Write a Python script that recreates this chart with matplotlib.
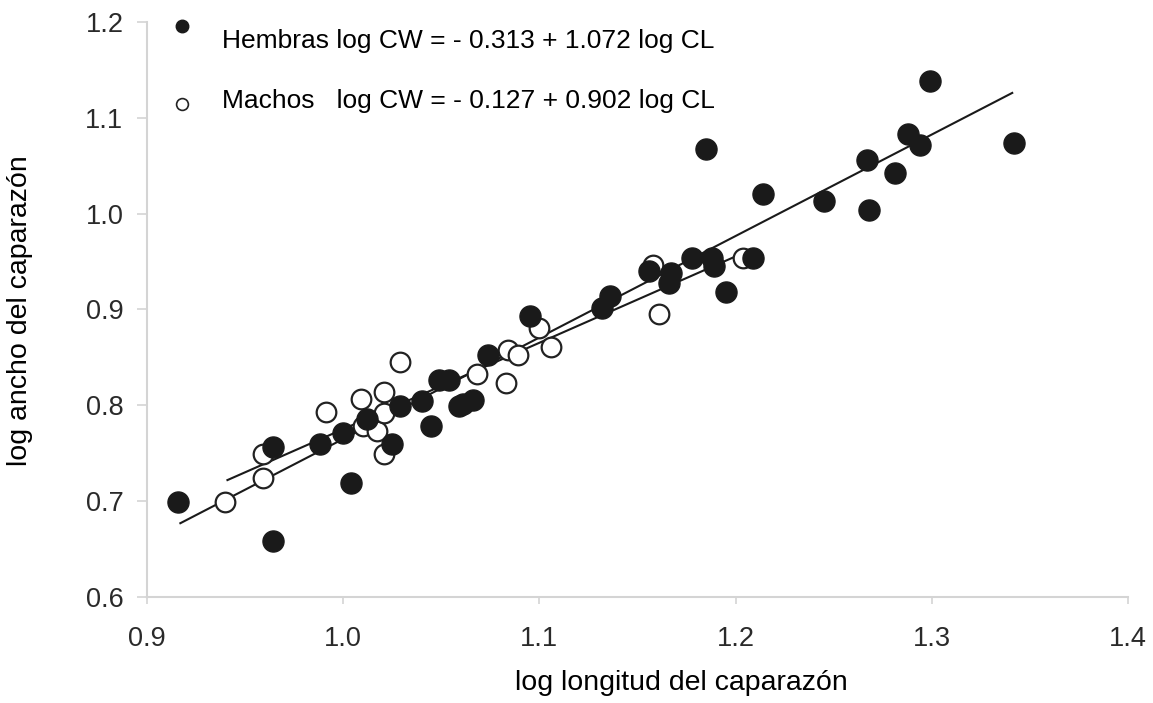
import matplotlib.pyplot as plt
import numpy as np

plt.rcParams['font.family'] = ['Liberation Sans', 'DejaVu Sans']

# Hembras (filled)
hem_x = [0.916, 0.964, 0.964, 0.988, 1.000, 1.004, 1.012, 1.025, 1.029, 1.040,
         1.045, 1.049, 1.054, 1.059, 1.061, 1.066, 1.074, 1.095, 1.132, 1.136,
         1.156, 1.167, 1.166, 1.178, 1.185, 1.188, 1.189, 1.195, 1.209, 1.214,
         1.245, 1.267, 1.268, 1.281, 1.288, 1.294, 1.299, 1.342]
hem_y = [0.699, 0.658, 0.756, 0.760, 0.771, 0.719, 0.786, 0.760, 0.799, 0.805,
         0.778, 0.826, 0.826, 0.799, 0.801, 0.806, 0.852, 0.893, 0.902, 0.914,
         0.940, 0.938, 0.928, 0.954, 1.067, 0.954, 0.945, 0.918, 0.954, 1.020,
         1.013, 1.056, 1.004, 1.042, 1.083, 1.072, 1.138, 1.074]

# Machos (open)
mac_x = [0.940, 0.959, 0.959, 0.991, 1.009, 1.010, 1.017, 1.021, 1.021, 1.021,
         1.029, 1.068, 1.083, 1.084, 1.089, 1.100, 1.106, 1.158, 1.161, 1.204]
mac_y = [0.699, 0.724, 0.749, 0.793, 0.807, 0.778, 0.773, 0.814, 0.792, 0.749,
         0.845, 0.833, 0.823, 0.858, 0.853, 0.881, 0.861, 0.946, 0.895, 0.954]

# fitted lines as drawn (end points)
hem_line_x = [0.917, 1.341]
hem_line_y = [0.677, 1.126]
mac_line_x = [0.941, 1.204]
mac_line_y = [0.722, 0.959]

hem_label = 'Hembras log CW = - 0.313 + 1.072 log CL'
mac_label = 'Machos   log CW = - 0.127 + 0.902 log CL'

fig = plt.figure(figsize=(11.53, 7.03), dpi=100)
ax = fig.add_axes([0.1275, 0.1508, 0.8508, 0.8179])

ax.plot(hem_line_x, hem_line_y, color='#1a1a1a', lw=1.5, zorder=2)
ax.plot(mac_line_x, mac_line_y, color='#1a1a1a', lw=1.5, zorder=2)

ax.scatter(mac_x, mac_y, s=200, facecolors='white', edgecolors='#222222',
           linewidths=1.6, zorder=3)
ax.scatter(hem_x, hem_y, s=230, color='#1a1a1a', zorder=4)

# legend-like labels
ax.plot([0.918], [1.196], 'o', ms=9, color='#1a1a1a', clip_on=False)
ax.plot([0.918], [1.114], 'o', ms=8.5, mfc='white', mec='#222222', mew=1.2, clip_on=False)
ax.text(0.938, 1.18, hem_label, fontsize=19, va='center', ha='left')
ax.text(0.938, 1.118, mac_label, fontsize=19, va='center', ha='left')

ax.set_xlim(0.9, 1.4)
ax.set_ylim(0.6, 1.2)
ax.set_xticks([0.9, 1.0, 1.1, 1.2, 1.3, 1.4])
ax.set_yticks([0.6, 0.7, 0.8, 0.9, 1.0, 1.1, 1.2])
ax.set_xticklabels(['0.9', '1.0', '1.1', '1.2', '1.3', '1.4'])
ax.set_yticklabels(['0.6', '0.7', '0.8', '0.9', '1.0', '1.1', '1.2'])

for s in ['top', 'right']:
    ax.spines[s].set_visible(False)
for s in ['left', 'bottom']:
    ax.spines[s].set_color('#d4d4d4')
    ax.spines[s].set_linewidth(1.5)
ax.tick_params(colors='#d4d4d4', labelcolor='#2a2a2a', labelsize=19.5, width=1.2)
ax.tick_params(axis='x', length=5, pad=16)
ax.tick_params(axis='y', length=7, pad=10)

fig.text(681 / 1153, 1 - 683 / 703, 'log longitud del caparazón', fontsize=20.5,
         ha='center', va='center')
fig.text(20 / 1153, 1 - 311 / 703, 'log ancho del caparazón', fontsize=20.5,
         ha='center', va='center', rotation=90)

fig.savefig('out.png', dpi=100)
